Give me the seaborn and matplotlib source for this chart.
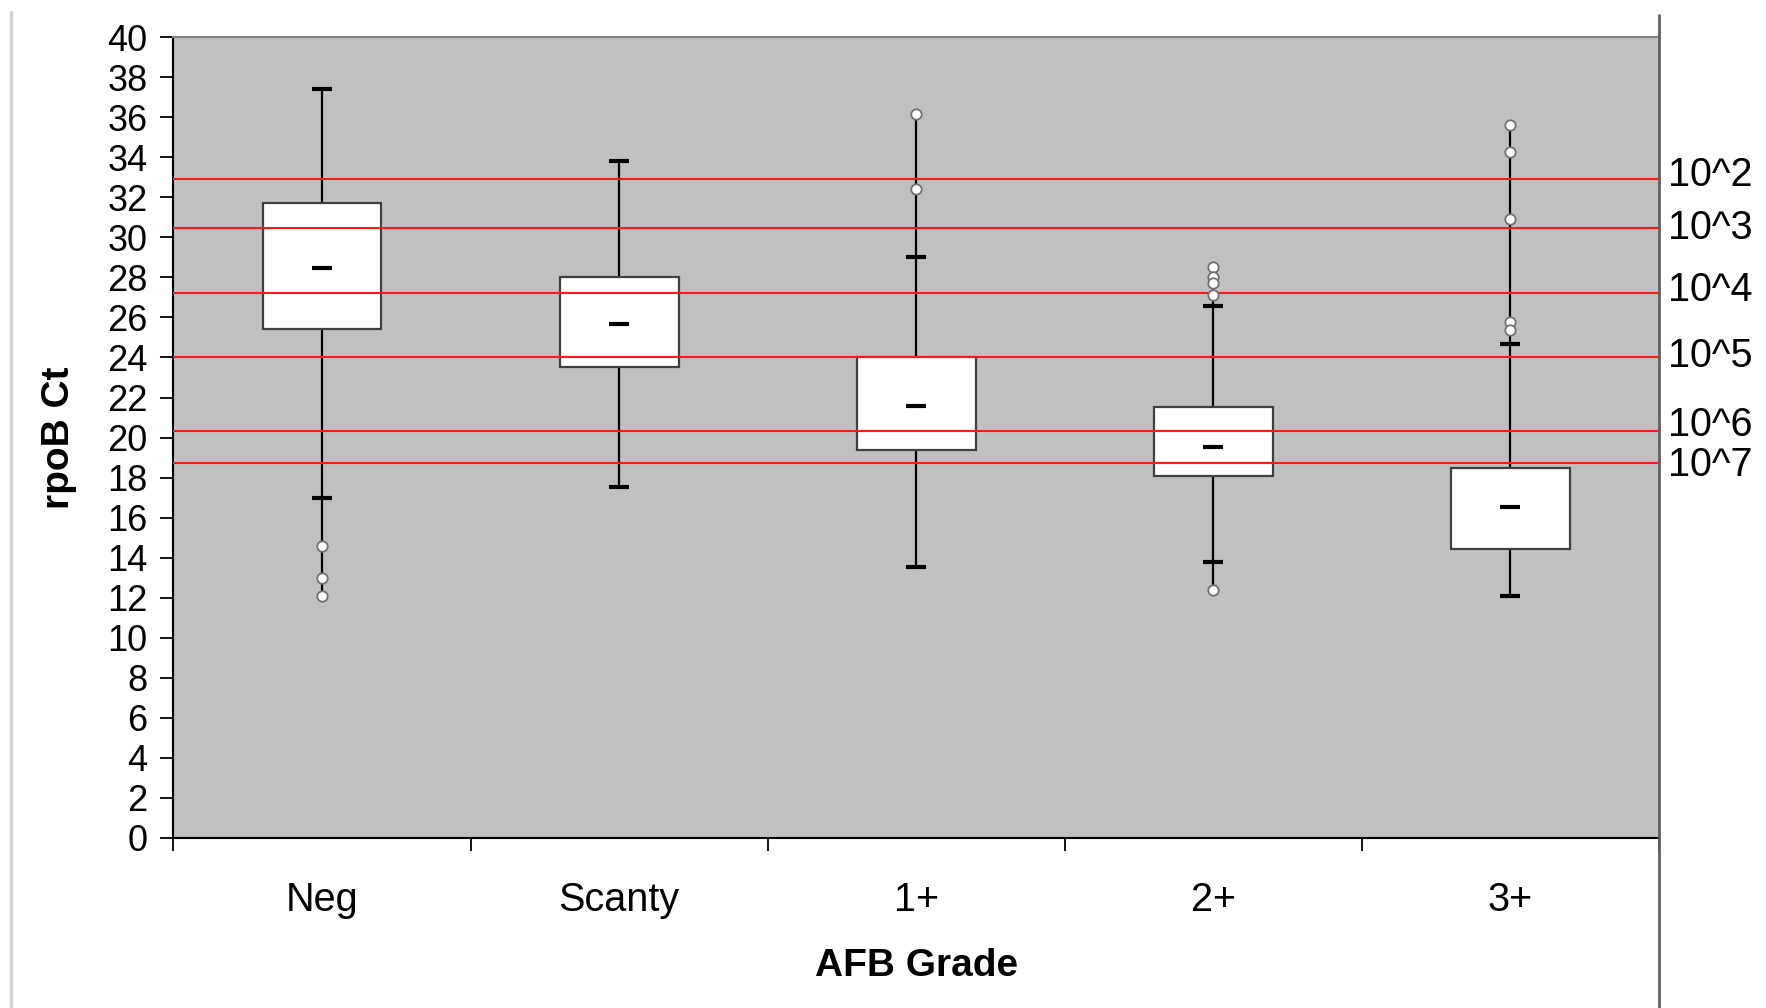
import matplotlib
matplotlib.use("Agg")
import matplotlib.pyplot as plt
import numpy as np
import pandas as pd
import seaborn as sns
from matplotlib.lines import Line2D
from matplotlib.transforms import blended_transform_factory

# ---------- Data ---------- #
grades = ["Neg", "Scanty", "1+", "2+", "3+"]
q1 = [25.42, 23.52, 19.36, 18.10, 14.43]
medians = [28.47, 25.65, 21.59, 19.51, 16.52]
q3 = [31.74, 28.02, 24.03, 21.55, 18.47]
whisker_lo = [16.97, 17.55, 13.54, 13.80, 12.09]
whisker_hi = [37.42, 33.81, 29.02, 26.57, 24.66]

outlier_grade = ["Neg", "Neg", "Neg",
                 "1+", "1+",
                 "2+", "2+", "2+", "2+", "2+",
                 "3+", "3+", "3+", "3+", "3+"]
outlier_ct = [14.58, 12.99, 12.08,
              36.16, 32.40,
              28.50, 28.03, 27.74, 27.12, 12.37,
              35.61, 34.25, 30.90, 25.76, 25.37]

# copy-number reference lines (Ct value and label)
ref_ct = [32.93, 30.49, 27.24, 24.04, 20.34, 18.71]
ref_labels = ["10^2", "10^3", "10^4", "10^5", "10^6", "10^7"]
ref_label_ct = [33.14, 30.49, 27.35, 24.08, 20.65, 18.62]

# ---------- Frames ---------- #
stats = pd.DataFrame({
    "grade": grades, "q1": q1, "median": medians, "q3": q3,
    "lo": whisker_lo, "hi": whisker_hi,
})
outliers = pd.DataFrame({"grade": outlier_grade, "ct": outlier_ct})
caps = pd.DataFrame({
    "grade": grades * 2,
    "ct": whisker_lo + whisker_hi,
})
pos = np.arange(len(grades))

# full vertical extent of each group (whiskers + outliers)
rng_lo = [min([stats.lo[i]] + list(outliers.ct[outliers.grade == g])) for i, g in enumerate(grades)]
rng_hi = [max([stats.hi[i]] + list(outliers.ct[outliers.grade == g])) for i, g in enumerate(grades)]

# ---------- Plot ---------- #
sns.set_style("white")
plt.rcParams["font.family"] = ["Liberation Sans", "DejaVu Sans"]
plt.rcParams["text.color"] = "black"
plt.rcParams["axes.labelcolor"] = "black"
plt.rcParams["xtick.color"] = "black"
plt.rcParams["ytick.color"] = "black"

fig = plt.figure(figsize=(17.66, 10.08), dpi=100)
ax = fig.add_axes([0.0982, 0.1687, 0.8412, 0.7944])
ax.set_facecolor("#C0C0C0")

# vertical range lines, boxes
ax.vlines(pos, rng_lo, rng_hi, color="black", lw=1.6, zorder=2)
ax.bar(pos, stats.q3 - stats.q1, bottom=stats.q1, width=0.40,
       color="white", edgecolor="#404040", linewidth=1.6, zorder=3)

# reference lines
for ct in ref_ct:
    ax.axhline(ct, color="#FF1A1A", lw=1.5, zorder=4)

# caps and medians
sns.stripplot(data=caps, x="grade", y="ct", order=grades, jitter=False,
              marker="_", size=15, linewidth=3, color="black", ax=ax, zorder=5)
sns.stripplot(data=stats, x="grade", y="median", order=grades, jitter=False,
              marker="_", size=15, linewidth=3, color="black", ax=ax, zorder=5)
# outliers
sns.stripplot(data=outliers, x="grade", y="ct", order=grades, jitter=False,
              marker="o", size=7.5, linewidth=1.3, color="white",
              edgecolor="#707070", ax=ax, zorder=6)

ax.set_xlim(-0.5, len(grades) - 0.5)
ax.set_ylim(0, 40)
ax.set_yticks(np.arange(0, 41, 2))
ax.set_xticks(pos)
ax.set_xticklabels(grades)
ax.set_xticks(np.arange(-0.5, len(grades), 1.0), minor=True)

ax.tick_params(axis="y", which="major", direction="out", length=9.5, width=1.3,
               color="black", labelcolor="black", labelsize=26, pad=9, left=True)
ax.tick_params(axis="x", which="major", length=0, labelsize=28.5,
               labelcolor="black", pad=31, bottom=True)
ax.tick_params(axis="x", which="minor", direction="out", length=9.5, width=1.3,
               color="black", bottom=True)

for side in ["left", "bottom"]:
    ax.spines[side].set_color("black")
    ax.spines[side].set_linewidth(1.5)
ax.spines["top"].set_color("#808080")
ax.spines["top"].set_linewidth(1.5)
ax.spines["right"].set_visible(False)

ax.set_xlabel("AFB Grade", fontsize=28, fontweight="bold", color="black")
ax.set_ylabel("rpoB Ct", fontsize=28, fontweight="bold", color="black")
ax.xaxis.set_label_coords(0.5, -0.16)
ax.xaxis.label.set_va("center")
ax.yaxis.set_label_coords(-0.0773, 0.5)
ax.yaxis.label.set_va("center")

# labels for the reference lines, outside the right edge
trans = blended_transform_factory(ax.transAxes, ax.transData)
for lab, y in zip(ref_labels, ref_label_ct):
    ax.text(1.006, y, lab, transform=trans, ha="left", va="center",
            fontsize=28.5, color="black", clip_on=False)

# chart frame lines (right border runs full height, faint left border)
fig.add_artist(Line2D([1659 / 1766] * 2, [0, 1 - 15 / 1008],
                      transform=fig.transFigure, color="#606060", lw=2))
fig.add_artist(Line2D([11 / 1766] * 2, [0, 1 - 12 / 1008],
                      transform=fig.transFigure, color="#D4D4D4", lw=2.5))

fig.savefig("out.png", dpi=100, facecolor="white")
